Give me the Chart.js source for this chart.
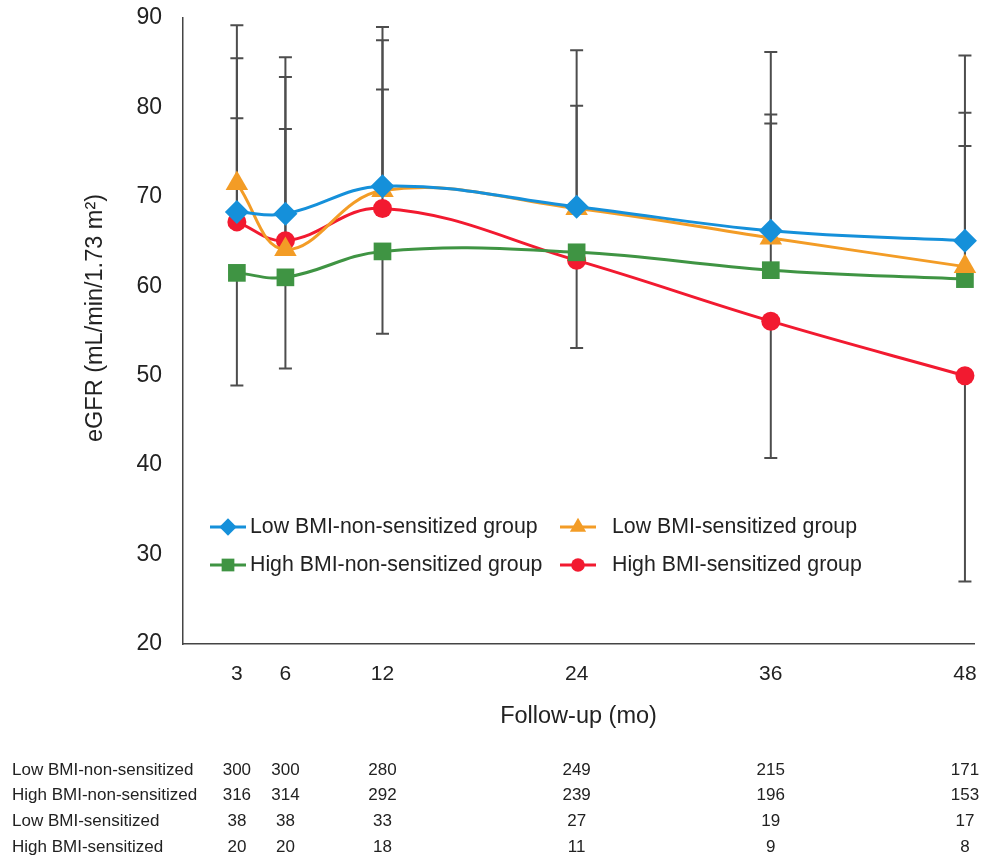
<!DOCTYPE html>
<html>
<head>
<meta charset="utf-8">
<script src="https://cdn.jsdelivr.net/npm/chart.js@4.4.1/dist/chart.umd.min.js"></script>
<style>
    html, body { margin: 0; padding: 0; background: #fff; overflow: hidden; }
    /* a little wider than the window so the 48 label overhang falls outside */
    #wrap { width: 987px; height: 859px; position: relative; }
</style>
</head>
<body>
<div id="wrap"><canvas id="egfr_graph"></canvas></div>
<script>
// follow-up months
const months = [3, 6, 12, 24, 36, 48];
const yTicks = [20, 30, 40, 50, 60, 70, 80, 90];

// mean eGFR per group
const lowNonSens = [68.3, 68.1, 71.2, 68.9, 66.2, 65.1];
const highNonSens = [61.5, 61.0, 63.9, 63.8, 61.8, 60.8];
const lowSens = [71.5, 64.1, 70.7, 68.7, 65.4, 62.2];
const highSens = [67.2, 65.1, 68.7, 62.9, 56.1, 50.0];

// error bar ends (null = not drawn)
const lowNonSensUp = [78.8, 77.6, 82.0, 80.2, 79.2, 75.7];
const lowSensUp = [85.5, 83.4, 87.5, 86.4, 86.2, 85.8];
const highSensUp = [89.2, 85.6, 89.0, null, null, null];
const highSensLow = [null, null, null, 53.1, 40.8, 27.0];
const highNonSensUp = [null, null, null, null, 78.2, 79.4];
const highNonSensLow = [48.9, 50.8, 54.7, null, null, null];

// numbers at risk
const riskLabels = ['Low BMI-non-sensitized', 'High BMI-non-sensitized', 'Low BMI-sensitized', 'High BMI-sensitized'];
const riskLowNonSens = [300, 300, 280, 249, 215, 171];
const riskHighNonSens = [316, 314, 292, 239, 196, 153];
const riskLowSens = [38, 38, 33, 27, 19, 17];
const riskHighSens = [20, 20, 18, 11, 9, 8];
const riskRows = [riskLowNonSens, riskHighNonSens, riskLowSens, riskHighSens];

const FONT = "'Liberation Sans', Arial, sans-serif";

function points(vals) {
    return months.map(function(m, i) { return { x: m, y: vals[i] }; });
}

const series = [
    { label: 'Low BMI-non-sensitized group', color: '#1590da', style: 'rectRot', r: 12, data: lowNonSens, up: lowNonSensUp, low: null },
    { label: 'Low BMI-sensitized group', color: '#f39c26', style: 'triangle', r: 13, data: lowSens, up: lowSensUp, low: null },
    { label: 'High BMI-non-sensitized group', color: '#3f9443', style: 'rect', r: 12.5, data: highNonSens, up: highNonSensUp, low: highNonSensLow },
    { label: 'High BMI-sensitized group', color: '#f21a30', style: 'circle', r: 9.5, data: highSens, up: highSensUp, low: highSensLow }
];

const errorBars = {
    id: 'errorBars',
    beforeDatasetsDraw(chart) {
        const ctx = chart.ctx;
        const xs = chart.scales.x, ys = chart.scales.y;
        ctx.save();
        ctx.strokeStyle = '#4d4d4d';
        ctx.lineWidth = 2;
        series.forEach(function(s) {
            months.forEach(function(m, i) {
                const px = xs.getPixelForValue(m);
                const py = ys.getPixelForValue(s.data[i]);
                [s.up, s.low].forEach(function(arr) {
                    if (!arr || arr[i] == null) return;
                    const ey = ys.getPixelForValue(arr[i]);
                    ctx.beginPath();
                    ctx.moveTo(px, py);
                    ctx.lineTo(px, ey);
                    ctx.moveTo(px - 6.5, ey);
                    ctx.lineTo(px + 6.5, ey);
                    ctx.stroke();
                });
            });
        });
        ctx.restore();
    }
};

const extras = {
    id: 'extras',
    afterDraw(chart) {
        const ctx = chart.ctx;
        const area = chart.chartArea;
        const xs = chart.scales.x;
        ctx.save();
        // y axis title, a bit above the plot centre as in the original
        ctx.save();
        ctx.translate(96, 318);
        ctx.rotate(-Math.PI / 2);
        ctx.font = '23.5px ' + FONT;
        ctx.fillStyle = '#222';
        ctx.textAlign = 'center';
        ctx.textBaseline = 'middle';
        ctx.fillText('eGFR (mL/min/1.73 m\u00b2)', 0, 0);
        ctx.restore();
        // legend, 2 x 2
        const cols = [area.left + 27, area.left + 377];
        const rows = [527, 565];
        ctx.font = '21.3px ' + FONT;
        ctx.textBaseline = 'middle';
        ctx.textAlign = 'left';
        series.forEach(function(s, n) {
            const lx = cols[n % 2];
            const ly = rows[Math.floor(n / 2)];
            ctx.strokeStyle = s.color;
            ctx.lineWidth = 3;
            ctx.beginPath();
            ctx.moveTo(lx, ly);
            ctx.lineTo(lx + 36, ly);
            ctx.stroke();
            ctx.fillStyle = s.color;
            Chart.helpers.drawPoint(ctx, { pointStyle: s.style, radius: s.r * 0.72, rotation: 0, borderWidth: 0 }, lx + 18, ly);
            ctx.fillStyle = '#222';
            ctx.fillText(s.label, lx + (n % 2 ? 52 : 40), ly);
        });
        // numbers at risk table
        const tableY = [770, 795, 821, 847];
        ctx.font = '17px ' + FONT;
        riskLabels.forEach(function(lbl, r) {
            ctx.textAlign = 'left';
            ctx.fillStyle = '#222';
            ctx.fillText(lbl, 12, tableY[r]);
            ctx.textAlign = 'center';
            riskRows[r].forEach(function(v, i) {
                ctx.fillText(String(v), xs.getPixelForValue(months[i]), tableY[r]);
            });
        });
        ctx.restore();
    }
};

const chart = new Chart(document.getElementById('egfr_graph'), {
    type: 'line',
    data: {
        datasets: series.map(function(s) {
            return {
                label: s.label,
                data: points(s.data),
                borderColor: s.color,
                backgroundColor: s.color,
                borderWidth: 3,
                pointStyle: s.style,
                pointRadius: s.r,
                pointBorderWidth: 0,
                tension: 0.4,
                clip: false
            };
        })
    },
    options: {
        responsive: true,
        maintainAspectRatio: false,
        animation: false,
        layout: { padding: { left: 78, right: 6, top: 18, bottom: 122 } },
        plugins: { legend: { display: false }, tooltip: { enabled: false } },
        scales: {
            x: {
                type: 'linear',
                min: -0.33,
                max: 48.56,
                afterBuildTicks(scale) {
                    scale.ticks = months.map(function(m) { return { value: m }; });
                },
                afterFit(scale) {
                    scale.height = 93;
                },
                grid: { display: false, drawOnChartArea: false, drawTicks: true, tickLength: 12, tickColor: '#444', tickWidth: 1.5 },
                border: { display: true, color: '#444', width: 1.5 },
                ticks: { color: '#222', font: { family: FONT, size: 21 }, padding: 6, autoSkip: false, maxRotation: 0 },
                title: { display: true, text: 'Follow-up (mo)', color: '#222', font: { family: FONT, size: 23.5 }, padding: { top: 6, bottom: 6 } }
            },
            y: {
                min: 20,
                max: 90,
                afterBuildTicks(scale) {
                    scale.ticks = yTicks.map(function(v) { return { value: v }; });
                },
                afterFit(scale) {
                    scale.width = 105;
                    scale.paddingTop = 0;
                    scale.paddingBottom = 0;
                },
                grid: { display: false, drawOnChartArea: false, drawTicks: true, tickLength: 13, tickColor: '#444', tickWidth: 1.5 },
                border: { display: true, color: '#444', width: 1.5 },
                ticks: { color: '#222', font: { family: FONT, size: 23 }, padding: 8 },
                title: { display: false }
            }
        }
    },
    plugins: [errorBars, extras]
});
</script>
</body>
</html>
